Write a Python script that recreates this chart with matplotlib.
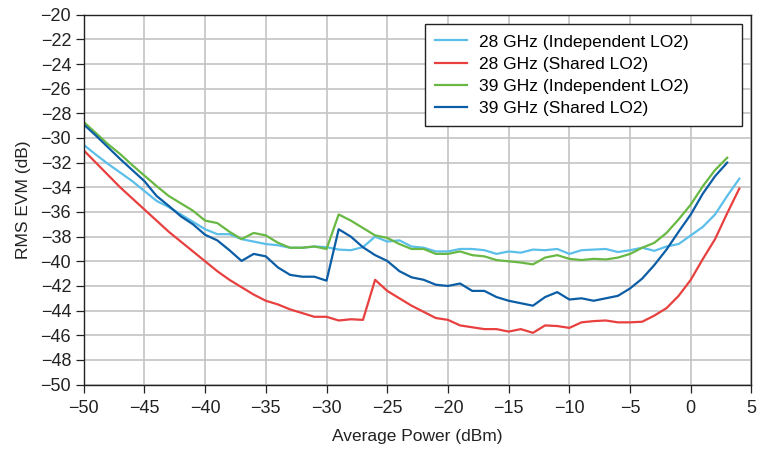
import numpy as np
import matplotlib.pyplot as plt

plt.rcParams['font.family'] = ['Liberation Sans', 'DejaVu Sans']

# input power sweep (dBm)
power_28 = np.arange(-50, 5)   # -50 ... 4
power_39 = np.arange(-50, 4)   # -50 ... 3

evm_28_indep = [
    -30.55, -31.35, -32.1, -32.8, -33.5, -34.3, -35.1, -35.6, -36.2, -36.8,
    -37.4, -37.8, -37.8, -38.2, -38.4, -38.6, -38.7, -38.9, -38.9, -38.8,
    -38.85, -39.05, -39.1, -38.85, -38.0, -38.4, -38.3, -38.8, -38.9, -39.2,
    -39.2, -39.0, -39.0, -39.1, -39.4, -39.2, -39.3, -39.05, -39.1, -39.0,
    -39.4, -39.1, -39.05, -39.0, -39.25, -39.1, -38.9, -39.15, -38.8, -38.6,
    -37.9, -37.2, -36.2, -34.7, -33.3]

evm_28_shared = [
    -31.0, -32.0, -33.0, -34.0, -34.9, -35.8, -36.7, -37.6, -38.4, -39.2,
    -40.0, -40.8, -41.5, -42.1, -42.7, -43.2, -43.5, -43.9, -44.2, -44.5,
    -44.5, -44.8, -44.7, -44.75, -41.5, -42.4, -43.0, -43.6, -44.1, -44.6,
    -44.75, -45.2, -45.35, -45.5, -45.5, -45.7, -45.5, -45.8, -45.2, -45.25,
    -45.4, -44.95, -44.85, -44.8, -44.95, -44.95, -44.9, -44.4, -43.8, -42.8,
    -41.5, -39.8, -38.2, -36.1, -34.1]

evm_39_indep = [
    -28.7, -29.6, -30.5, -31.3, -32.2, -33.05, -33.9, -34.7, -35.3, -35.9,
    -36.7, -36.9, -37.6, -38.2, -37.7, -37.9, -38.5, -38.9, -38.9, -38.8,
    -39.0, -36.2, -36.7, -37.3, -37.9, -38.1, -38.6, -39.0, -39.0, -39.4,
    -39.4, -39.2, -39.5, -39.6, -39.9, -40.0, -40.1, -40.25, -39.7, -39.5,
    -39.8, -39.9, -39.8, -39.85, -39.7, -39.4, -38.9, -38.5, -37.7, -36.6,
    -35.4, -33.9, -32.6, -31.6]

evm_39_shared = [
    -28.9, -29.8, -30.75, -31.7, -32.6, -33.5, -34.7, -35.5, -36.35, -37.0,
    -37.85, -38.3, -39.1, -39.97, -39.4, -39.6, -40.5, -41.1, -41.25, -41.25,
    -41.57, -37.4, -38.0, -38.86, -39.5, -39.97, -40.8, -41.3, -41.5, -41.9,
    -42.0, -41.8, -42.4, -42.4, -42.9, -43.2, -43.4, -43.6, -42.9, -42.5,
    -43.1, -43.0, -43.2, -43.0, -42.8, -42.2, -41.4, -40.3, -39.05, -37.6,
    -36.2, -34.5, -33.1, -32.0]

labels = ['28 GHz (Independent LO2)', '28 GHz (Shared LO2)',
          '39 GHz (Independent LO2)', '39 GHz (Shared LO2)']
colors = ['#5bbfea', '#e8403f', '#68b843', '#0b5da5']

fig = plt.figure(figsize=(7.61, 4.49), dpi=100)
ax = fig.add_axes([0.11, 0.1434, 0.8775, 0.8239])

ax.plot(power_28, evm_28_indep, color=colors[0], lw=1.6, label=labels[0])
ax.plot(power_28, evm_28_shared, color=colors[1], lw=1.6, label=labels[1])
ax.plot(power_39, evm_39_indep, color=colors[2], lw=1.6, label=labels[2])
ax.plot(power_39, evm_39_shared, color=colors[3], lw=1.6, label=labels[3])

ax.set_xlim(-50, 5)
ax.set_ylim(-50, -20)
ax.set_xticks(np.arange(-50, 6, 5))
ax.set_yticks(np.arange(-50, -19, 2))
ax.grid(True, color='#c4c4c4', lw=1.2)
ax.set_axisbelow(True)
for s in ax.spines.values():
    s.set_color('#222222')
    s.set_linewidth(1.0)
ax.tick_params(direction='out', length=6, width=0.9, labelsize=13,
               colors='#222222', pad=3)
ax.tick_params(axis='x', pad=5)

ax.set_xlabel('Average Power (dBm)', fontsize=12.5, color='#222222', labelpad=9)
ax.set_ylabel('RMS EVM (dB)', fontsize=12.5, color='#222222', labelpad=7)

# wide legend box, entries kept to the left
leg = ax.legend(loc='upper left', bbox_to_anchor=(0.511, 0.5, 0.4748, 0.475),
                mode='expand', fontsize=12.5, frameon=True, fancybox=False,
                handlelength=1.85, handletextpad=0.65, labelspacing=0.4,
                borderpad=0.6, borderaxespad=0)
leg.get_frame().set_edgecolor('#222222')
leg.get_frame().set_linewidth(1.0)
leg.get_frame().set_alpha(1)

fig.savefig('out.png', dpi=100)
